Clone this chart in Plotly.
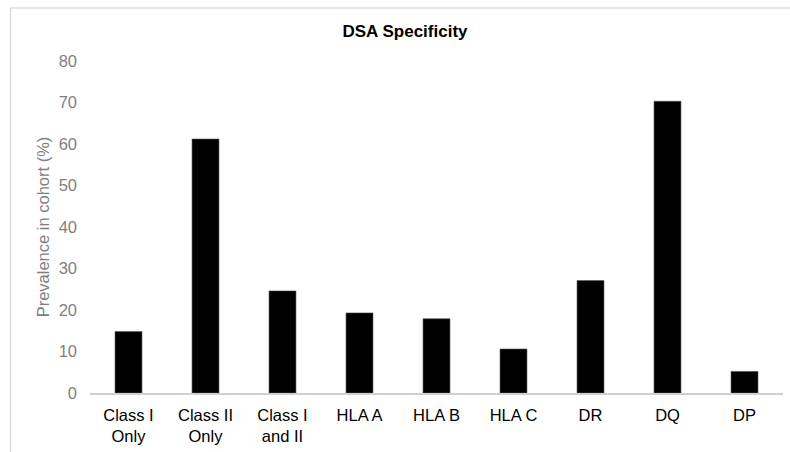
import plotly.graph_objects as go

categories = ["Class I<br>Only", "Class II<br>Only", "Class I<br>and II", "HLA A", "HLA B",
              "HLA C", "DR", "DQ", "DP"]
prevalence = [14.8, 61.2, 24.6, 19.3, 17.9, 10.6, 27.1, 70.3, 5.2]
y_ticks = [0, 10, 20, 30, 40, 50, 60, 70, 80]

W, H = 790, 452
ML, MR, MT, MB = 90, 7, 61, 59
pw, ph = W - ML - MR, H - MT - MB

def px_x(x):
    return (x - ML) / pw

def px_y(y):
    return (H - MB - y) / ph

fig = go.Figure(go.Bar(
    x=categories, y=prevalence,
    marker=dict(color="black", line=dict(color="#555555", width=0.6)),
    width=0.35,
))

fig.update_layout(
    width=W, height=H,
    margin=dict(l=ML, r=MR, t=MT, b=MB),
    plot_bgcolor="white", paper_bgcolor="white",
    font=dict(family="Liberation Sans, Arial, sans-serif", size=16.5, color="black"),
    title=dict(text="<b>DSA Specificity</b>", x=405 / W, xanchor="center",
               y=1 - 31 / H, yanchor="middle", font=dict(size=17, color="black")),
    showlegend=False,
    bargap=0.65,
)
fig.update_xaxes(
    showline=True, linecolor="#d0d0d0", linewidth=1.5,
    showgrid=False, ticks="", tickfont=dict(color="black", size=16.5),
    tickangle=0, ticklabelstandoff=6,
)
fig.update_yaxes(
    range=[0, 80], tickvals=y_ticks, showgrid=False, zeroline=False, showline=False,
    tickfont=dict(color="#7f7f7f", size=16.5), ticklabelstandoff=12,
    title=dict(text="Prevalence in cohort (%)", font=dict(color="#7f7f7f", size=16.5), standoff=4),
)
fig.add_shape(type="rect", xref="paper", yref="paper",
              x0=px_x(10.5), x1=px_x(900), y0=px_y(520), y1=px_y(8),
              line=dict(color="#dcdcdc", width=1.5), fillcolor="rgba(0,0,0,0)", layer="below")

fig.write_html("out.html", config={"displayModeBar": False},
               post_script="document.body.style.margin='0';")
